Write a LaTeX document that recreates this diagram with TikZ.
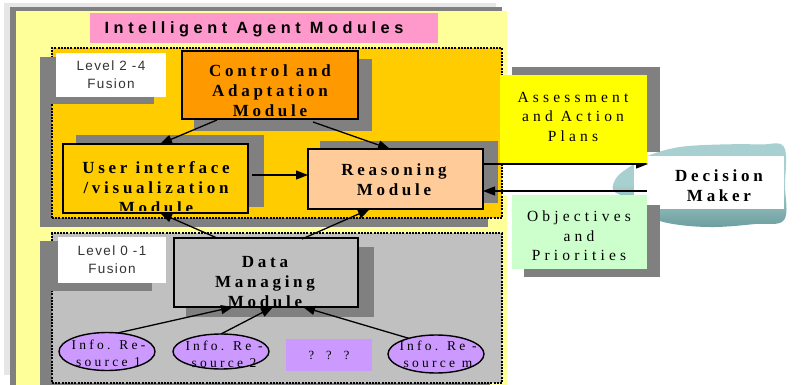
\documentclass[tikz,border=0pt]{standalone}
\usepackage{fontspec}
\setmainfont{Liberation Serif}
\setsansfont{Liberation Sans}
\newfontfamily\boldsp[LetterSpace=22]{Liberation Serif}
\newfontfamily\regsp[LetterSpace=27]{Liberation Serif}
\newfontfamily\smallsp[LetterSpace=24]{Liberation Serif}
\newfontfamily\titlesp[LetterSpace=28]{Liberation Sans}
\newfontfamily\levelsp[LetterSpace=10]{Liberation Sans}
\usetikzlibrary{shapes.geometric,arrows.meta,calc}
\definecolor{bglight}{HTML}{E6E6E6}
\definecolor{shadowgray}{HTML}{808080}
\definecolor{paleyellow}{HTML}{FFFF99}
\definecolor{titlepink}{HTML}{FF99CC}
\definecolor{gold}{HTML}{FFCC00}
\definecolor{ctrlorange}{HTML}{FF9900}
\definecolor{peach}{HTML}{FFCC99}
\definecolor{panelgray}{HTML}{C0C0C0}
\definecolor{lilac}{HTML}{CC99FF}
\definecolor{brightyellow}{HTML}{FFFF00}
\definecolor{palegreen}{HTML}{CCFFCC}
\definecolor{cloudA}{HTML}{A8D0D0}
\definecolor{cloudB}{HTML}{6E9E9E}
\definecolor{labelgray}{HTML}{333333}
\tikzset{
  panel/.style={draw=black, dash pattern=on 2pt off 1.2pt, line width=1.1pt, inner sep=0, outer sep=0},
  modbox/.style={draw=black, line width=1.8pt, inner sep=0, outer sep=0},
  plainbox/.style={draw=none, inner sep=0, outer sep=0},
  modfont/.style={inner sep=0, align=center, font=\boldsp\bfseries\fontsize{17}{20}\selectfont},
  sidefont/.style={inner sep=0, align=center, font=\regsp\fontsize{15.5}{19.5}\selectfont},
  levelfont/.style={inner sep=0, align=center, text=labelgray, font=\levelsp\fontsize{13.5}{18}\selectfont},
  elltext/.style={inner sep=0, align=center, font=\smallsp\fontsize{13.5}{17}\selectfont},
  elli/.style={ellipse, draw=black, line width=1.4pt, fill=lilac, inner sep=0, outer sep=0},
  arr/.style={line width=1.3pt, -{Triangle[length=12pt,width=9pt]}},
}
\begin{document}
\begin{tikzpicture}[x=1pt,y=-1pt]
\useasboundingbox (0,0) rectangle (804,385);
\fill[white] (0,0) rectangle (804,385);
% outer frames
\fill[bglight] (4,3) rectangle (496,375);
\fill[shadowgray] (10,7) rectangle (502,385);
\fill[paleyellow] (16,11) rectangle (507,385);
% title
\node[plainbox, fill=titlepink, minimum width=348pt, minimum height=30pt] (title) at (264,28) {};
\node[inner sep=0, font=\titlesp\bfseries\fontsize{16.3}{19}\selectfont] (titleT) at (254,29) {Intelligent Agent Modules};
% upper panel
\fill[shadowgray] (40,57) rectangle (488,227);
\node[panel, fill=gold, minimum width=450pt, minimum height=170pt] (upper) at (277,133) {};
\fill[shadowgray] (40,57) rectangle (154,104);
\node[plainbox, fill=white, minimum width=110pt, minimum height=44pt] (lvlA) at (111,75) {};
\node[levelfont] (lvlAT) at (111,75) {Level 2 -4\\Fusion};
% control
\fill[shadowgray] (194,59) rectangle (372,131);
\node[modbox, fill=ctrlorange, minimum width=176pt, minimum height=68pt] (ctrl) at (270,85) {};
\begin{scope}
\clip (183,52) rectangle (357,118);
\node[modfont] (ctrlT) at (270,91) {Control and\\Adaptation\\Module};
\end{scope}
% user interface
\fill[shadowgray] (76,135) rectangle (264,207);
\node[modbox, fill=gold, minimum width=185pt, minimum height=69pt] (ui) at (155.5,178.5) {};
\begin{scope}
\clip (64,145) rectangle (247,211);
\node[modfont] (uiT) at (156,188) {User interface\\/visualization\\Module};
\end{scope}
% reasoning
\fill[shadowgray] (320,141) rectangle (498,203);
\node[modbox, fill=peach, minimum width=175pt, minimum height=60pt] (reas) at (395.5,179) {};
\node[modfont] (reasT) at (394,180) {Reasoning\\Module};
% lower panel
\fill[shadowgray] (40,241) rectangle (490,385);
\node[panel, fill=panelgray, minimum width=450pt, minimum height=150pt] (lower) at (277,308) {};
\fill[shadowgray] (40,241) rectangle (152,291);
\node[plainbox, fill=white, minimum width=108pt, minimum height=46pt] (lvlB) at (112,260) {};
\node[levelfont] (lvlBT) at (112,259.5) {Level 0 -1\\Fusion};
% data
\fill[shadowgray] (186,247) rectangle (374,317);
\node[modbox, fill=panelgray, minimum width=184pt, minimum height=69pt] (data) at (266,272.5) {};
\begin{scope}
\clip (175,239) rectangle (357,305);
\node[modfont] (dataT) at (265,282) {Data\\Managing\\Module};
\end{scope}
% resources
\node[elli, minimum width=96pt, minimum height=38pt] (e1) at (107,351.5) {};
\begin{scope}
\clip (58,332) rectangle (157,368);
\node[elltext] (e1T) at (108.5,353) {Info. Re-\\source 1};
\end{scope}
\node[elli, minimum width=96pt, minimum height=35pt] (e2) at (221,351.5) {};
\begin{scope}
\clip (172,333) rectangle (270,368);
\node[elltext] (e2T) at (224,354) {Info. Re -\\source 2};
\end{scope}
\node[plainbox, fill=lilac, minimum width=86pt, minimum height=32pt, font=\smallsp\fontsize{12.5}{18}\selectfont] (qqq) at (329,355) {?\hspace{12pt}?\hspace{12pt}?};
\node[elli, minimum width=96pt, minimum height=38pt] (e3) at (436,354) {};
\begin{scope}
\clip (388,335) rectangle (484,372);
\node[elltext] (e3T) at (438,354.5) {Info. Re -\\source m};
\end{scope}
% internal arrows
\draw[arr] ($(ctrl.south west)+(35,1)$) -- ($(ui.north west)+(97,0)$);
\draw[arr] ($(ctrl.south west)+(131,3)$) -- ($(reas.north west)+(82,0)$);
\draw[arr] ($(ui.east)+(4,-3.5)$) -- ($(reas.west)+(0,-4)$);
\draw[arr] ($(data.north west)+(43,0)$) -- ($(ui.south west)+(97,0)$);
\draw[arr] ($(data.north west)+(128,1)$) -- ($(reas.south west)+(62,0)$);
\draw[arr] (e1.60) -- ($(data.south west)+(59,0)$);
\draw[arr] (e2.north) -- ($(data.south west)+(99,0)$);
\draw[arr] (e3.150) -- ($(data.south west)+(129,0)$);
% right side
\fill[white] (503,163.5) rectangle (650,195);
\shade[top color=cloudA, bottom color=cloudB, middle color=cloudA]
  plot[smooth cycle, tension=0.6] coordinates {(613,190) (617,177) (631,166) (650,155) (680,147) (720,144.5) (760,144.5) (784,147) (785,185) (784,220) (755,224) (715,227) (680,225) (655,219) (638,205) (625,197)};
\node[plainbox, fill=white, minimum width=150pt, minimum height=53pt] (dm) at (709,182.5) {};
\node[modfont] (dmT) at (719,186) {Decision\\Maker};
\draw[arr] ($(reas.east)+(0,-15)$) -- ($(dm.west)+(14,-18.5)$);
\draw[arr] ($(dm.west)+(13,8.5)$) -- ($(reas.east)+(0,12)$);
\fill[shadowgray] (512,67) rectangle (660,152);
\node[plainbox, fill=brightyellow, minimum width=147pt, minimum height=88pt] (assess) at (573.5,119) {};
\node[sidefont] (assessT) at (573,116.5) {Assessment\\and Action\\Plans};
\fill[shadowgray] (524,205) rectangle (660,277);
\node[plainbox, fill=palegreen, minimum width=135pt, minimum height=74pt] (obj) at (579.5,232) {};
\node[sidefont] (objT) at (579,236) {Objectives\\and\\Priorities};
\end{tikzpicture}
\end{document}
